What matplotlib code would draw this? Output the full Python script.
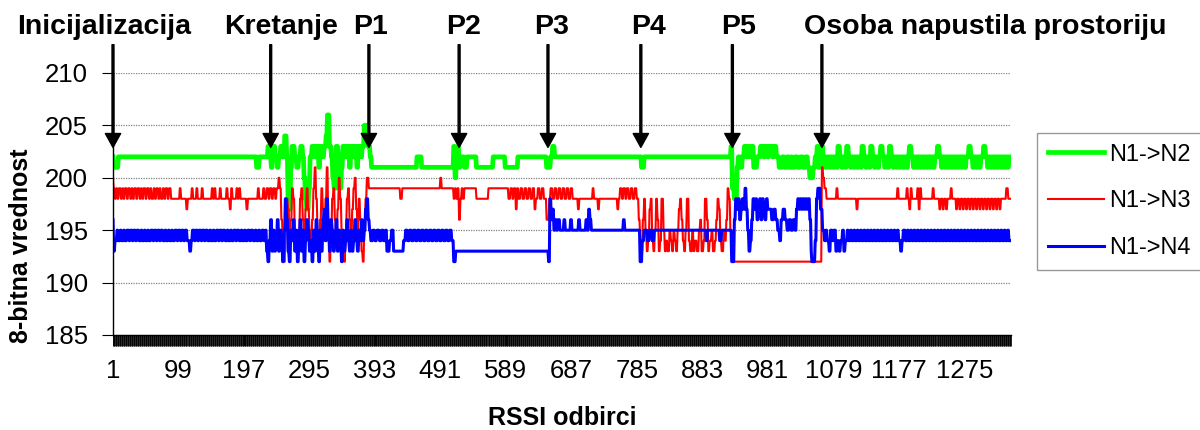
import numpy as np
import matplotlib
matplotlib.use("Agg")
import matplotlib.pyplot as plt
from matplotlib.ticker import FixedLocator, MultipleLocator

plt.rcParams['font.family'] = ['Liberation Sans', 'DejaVu Sans']

# broj RSSI odbiraka
n_samples = 1345

# (pocetni odbirak, vrednost) - vrednost vazi do sledeceg para
n1_n2 = [(1, 202), (2, 201), (9, 202), (216, 201), (220, 202),
         (233, 203), (236, 202), (238, 201), (240, 203), (244, 202), (247, 201), (249, 202), (252, 203),
         (255, 202), (258, 204), (261, 202), (263, 198), (265, 197), (267, 201), (269, 203), (273, 202),
         (276, 201), (279, 202), (282, 203), (285, 202), (287, 200), (289, 198), (291, 197), (294, 199),
         (296, 202), (299, 203), (303, 202), (305, 203), (309, 201), (311, 203), (314, 202), (317, 203),
         (320, 204), (322, 206), (325, 203), (328, 202), (330, 200), (332, 199), (335, 203), (338, 202),
         (340, 199), (343, 201), (345, 203), (349, 202), (351, 203), (355, 201), (357, 203), (361, 202),
         (363, 203), (366, 201), (368, 203), (371, 202), (374, 203), (377, 205), (381, 204), (383, 203),
         (386, 202), (388, 201), (456, 202), (463, 201), (511, 203), (513, 200), (515, 202), (517, 203),
         (519, 201), (521, 202), (527, 201), (531, 202), (545, 201), (570, 202), (588, 201), (607, 202),
         (650, 201), (656, 202), (659, 203), (662, 202), (792, 201), (796, 202),
         (926, 203), (928, 199), (931, 198), (935, 201), (937, 202), (940, 201), (943, 202), (946, 203),
         (949, 202), (951, 203), (954, 202), (957, 203), (960, 201), (965, 202), (970, 203), (975, 202),
         (977, 203), (981, 202), (983, 203), (988, 202), (990, 203), (994, 202), (998, 201), (1003, 202),
         (1006, 201), (1010, 202), (1013, 201), (1016, 202), (1018, 201), (1022, 202), (1026, 201),
         (1030, 202), (1034, 201), (1038, 202), (1041, 201), (1044, 200), (1049, 201), (1052, 202),
         (1055, 203), (1057, 201), (1060, 202), (1062, 203), (1064, 201),
         (1066, 202), (1069, 201), (1071, 202), (1074, 201), (1076, 202), (1079, 201), (1081, 202),
         (1084, 201), (1086, 203), (1089, 202), (1092, 201), (1094, 202), (1097, 201), (1099, 203),
         (1102, 202), (1105, 201), (1107, 202), (1110, 201), (1112, 202), (1115, 201), (1117, 202),
         (1120, 201), (1122, 203), (1125, 202), (1128, 201), (1130, 202), (1133, 201), (1135, 203),
         (1138, 202), (1141, 201), (1143, 202), (1146, 201), (1148, 202), (1150, 203), (1153, 202),
         (1156, 201), (1158, 202), (1161, 201), (1163, 203), (1166, 202), (1169, 201), (1171, 202),
         (1174, 201), (1176, 202), (1179, 201), (1181, 202), (1184, 201), (1186, 202), (1189, 201),
         (1191, 202), (1193, 203), (1196, 202), (1199, 201), (1201, 202), (1204, 201), (1206, 202),
         (1209, 201), (1211, 202), (1214, 201), (1216, 202), (1219, 201), (1221, 202), (1224, 201),
         (1226, 202), (1229, 201), (1231, 202), (1235, 203), (1238, 202), (1241, 201), (1243, 202),
         (1246, 201), (1248, 202), (1251, 201), (1253, 202), (1256, 201), (1258, 202), (1261, 201),
         (1263, 202), (1266, 201), (1268, 202), (1271, 201), (1273, 202), (1276, 201), (1278, 202),
         (1282, 203), (1285, 202), (1288, 201), (1290, 202), (1293, 201), (1295, 202), (1298, 201),
         (1300, 202), (1304, 203), (1307, 202), (1310, 201), (1312, 202), (1315, 201), (1317, 202),
         (1320, 201), (1322, 202), (1325, 201), (1327, 202), (1330, 201), (1332, 202), (1335, 201),
         (1337, 202), (1340, 201), (1342, 202)]

n1_n3 = [(1, 200), (2, 199), (4, 198), (6, 199), (8, 198), (10, 199), (13, 198), (15, 199), (17, 198),
         (19, 199), (22, 198), (24, 199), (27, 198), (29, 199), (31, 198), (33, 199), (36, 198), (38, 199),
         (41, 198), (43, 199), (45, 198), (47, 199), (50, 198), (52, 199), (55, 198), (57, 199), (59, 198),
         (62, 199), (64, 198), (66, 199), (69, 198), (71, 199), (73, 198), (76, 199), (78, 198), (80, 199),
         (83, 198), (85, 199), (88, 198), (101, 199), (103, 198), (111, 197), (113, 198), (119, 199),
         (121, 198), (126, 199), (128, 198), (134, 199), (136, 198), (149, 199), (151, 198), (153, 199),
         (155, 198), (161, 199), (163, 198), (171, 199), (173, 198), (176, 197), (178, 199), (180, 198),
         (186, 199), (188, 198), (190, 199), (192, 198), (201, 197), (203, 198), (218, 199), (220, 198),
         (226, 199), (228, 198), (231, 199), (234, 198), (236, 199), (239, 198), (241, 199), (244, 198),
         (246, 199), (249, 200), (251, 199),
         (253, 196), (255, 194), (257, 192), (259, 195), (261, 198), (263, 197), (265, 194), (267, 196),
         (269, 199), (271, 198), (273, 195), (275, 193), (277, 192), (279, 195), (281, 198), (283, 199),
         (285, 196), (287, 194), (289, 197), (291, 199), (293, 197), (295, 195), (297, 193), (299, 196),
         (301, 199), (303, 201), (305, 198), (307, 195), (309, 193), (311, 196), (313, 199), (315, 197),
         (317, 194), (319, 198), (321, 201), (323, 196), (325, 192), (327, 195), (329, 198), (331, 199),
         (333, 196), (335, 194), (337, 197), (339, 200), (341, 198), (343, 195), (345, 193), (347, 192),
         (349, 195), (351, 198), (353, 199), (355, 196), (357, 194), (359, 197), (361, 199), (363, 200),
         (365, 197), (367, 195), (369, 198), (371, 196), (373, 193), (375, 192), (377, 195), (379, 198),
         (381, 200), (384, 199), (431, 198), (434, 199), (491, 200), (493, 199),
         (511, 198), (513, 199), (515, 198), (517, 199), (519, 196), (521, 198), (523, 199), (525, 198),
         (527, 199), (545, 198), (563, 199), (593, 198), (596, 199), (599, 198), (601, 199), (604, 197),
         (606, 199), (608, 198), (611, 199), (614, 198), (617, 199), (620, 198), (623, 199), (626, 198),
         (629, 199), (632, 197), (634, 198), (637, 199), (640, 198), (643, 199), (646, 198), (650, 196),
         (654, 198), (656, 199), (659, 198), (662, 199), (665, 198), (668, 199), (671, 198), (674, 199),
         (677, 198), (680, 199), (683, 198), (686, 199), (689, 198), (697, 197), (699, 198), (719, 199),
         (721, 198), (727, 197), (729, 198), (756, 197), (758, 198), (760, 199), (763, 198), (765, 199),
         (768, 198), (770, 199), (773, 198), (776, 199), (779, 198), (782, 199), (785, 198),
         (788, 196), (790, 194), (792, 193), (794, 196), (796, 198), (798, 195), (800, 193), (802, 194),
         (804, 197), (806, 198), (808, 194), (810, 193), (812, 195), (814, 198), (816, 196), (818, 193),
         (820, 194), (822, 198), (825, 195), (827, 193), (829, 194), (831, 193), (834, 195), (836, 194),
         (838, 193), (840, 195), (842, 194), (844, 193), (846, 195), (848, 197), (850, 198), (852, 196),
         (854, 194), (856, 193), (858, 195), (860, 198), (863, 194), (865, 193), (868, 195), (870, 193),
         (872, 194), (875, 193), (878, 195), (880, 196), (882, 193), (885, 194), (887, 198), (890, 196),
         (892, 193), (894, 194), (897, 195), (899, 193), (902, 194), (904, 196), (906, 198), (908, 197),
         (910, 194), (912, 193), (915, 195), (917, 194), (919, 196), (921, 199), (923, 198), (925, 195),
         (927, 193), (929, 192), (1062, 201), (1064, 200), (1066, 199), (1069, 198), (1084, 199),
         (1086, 198), (1114, 197), (1116, 198), (1175, 199), (1177, 198), (1189, 199), (1191, 198),
         (1193, 197), (1195, 199), (1197, 198), (1205, 199), (1207, 197), (1209, 199), (1211, 198),
         (1228, 199), (1230, 198), (1238, 197), (1240, 198), (1243, 197), (1245, 198), (1248, 197),
         (1250, 198), (1255, 199), (1257, 198), (1263, 197), (1265, 198), (1268, 197), (1270, 198),
         (1273, 197), (1275, 198), (1278, 197), (1280, 198), (1283, 197), (1285, 198), (1288, 197),
         (1290, 198), (1293, 197), (1295, 198), (1298, 197), (1300, 198), (1303, 197), (1305, 198),
         (1308, 197), (1310, 198), (1313, 197), (1315, 198), (1318, 197), (1320, 198), (1323, 197),
         (1325, 198), (1328, 197), (1330, 198), (1338, 199), (1341, 198)]

n1_n4 = [(1, 196), (2, 193), (4, 194), (7, 195), (9, 194), (12, 195), (14, 194), (17, 195), (19, 194),
         (22, 195), (25, 194), (27, 195), (30, 194), (32, 195), (35, 194), (37, 195), (40, 194), (43, 195),
         (45, 194), (48, 195), (50, 194), (53, 195), (55, 194), (58, 195), (61, 194), (63, 195), (66, 194),
         (68, 195), (71, 194), (73, 195), (76, 194), (79, 195), (81, 194), (84, 195), (86, 194), (89, 195),
         (91, 194), (94, 195), (97, 194), (99, 195), (102, 194), (104, 195), (107, 194), (109, 195),
         (112, 194), (116, 193), (118, 194), (120, 195), (123, 194), (125, 195), (128, 194), (130, 195),
         (133, 194), (135, 195), (138, 194), (140, 195), (143, 194), (146, 195), (148, 194), (151, 195),
         (153, 194), (156, 195), (159, 194), (161, 195), (164, 194), (166, 195), (169, 194), (172, 195),
         (174, 194), (177, 195), (179, 194), (182, 195), (185, 194), (187, 195), (190, 194), (193, 195),
         (195, 194), (198, 195), (200, 194), (203, 195), (206, 194), (208, 195), (211, 194), (214, 195),
         (216, 194), (219, 195), (221, 194), (224, 195), (227, 194), (229, 195),
         (231, 193), (233, 192), (235, 194), (237, 196), (239, 193), (241, 195), (243, 193), (245, 194),
         (247, 196), (249, 193), (251, 195), (253, 194), (255, 192), (257, 195), (259, 198), (261, 196),
         (263, 193), (265, 192), (267, 195), (269, 194), (271, 196), (273, 193), (275, 195), (277, 192),
         (279, 194), (281, 196), (283, 193), (285, 195), (287, 192), (289, 194), (291, 196), (293, 195),
         (295, 193), (297, 194), (299, 192), (301, 195), (303, 193), (305, 196), (307, 194), (309, 192),
         (311, 195), (313, 193), (315, 196), (317, 197), (319, 194), (321, 198), (323, 195), (325, 193),
         (327, 196), (329, 195), (331, 193), (333, 194), (335, 196), (337, 193), (339, 195), (341, 194),
         (343, 192), (345, 195), (347, 193), (349, 194), (351, 196), (353, 194), (355, 193), (357, 195),
         (359, 193), (361, 194), (363, 196), (365, 194), (367, 193), (369, 195), (371, 194), (373, 196),
         (375, 194), (377, 195), (379, 197), (381, 198), (383, 196), (385, 195), (387, 194),
         (390, 195), (393, 194), (396, 195), (400, 194), (403, 195), (406, 194), (409, 195), (411, 193),
         (415, 194), (418, 195), (421, 193), (436, 194), (439, 195), (442, 194), (445, 195), (448, 194),
         (451, 195), (454, 194), (457, 195), (460, 194), (463, 195), (466, 194), (469, 195), (472, 194),
         (475, 195), (478, 194), (481, 195), (484, 194), (487, 195), (490, 194), (493, 195), (496, 194),
         (499, 195), (502, 194), (505, 195), (508, 194), (511, 192), (514, 193), (653, 192), (655, 198),
         (657, 196), (659, 197), (661, 195), (663, 196), (665, 195), (667, 196), (670, 195), (676, 196),
         (678, 195), (686, 196), (688, 195), (698, 196), (700, 195), (709, 196), (711, 195), (713, 197),
         (715, 196), (717, 195), (765, 196), (767, 195), (790, 192), (793, 194), (796, 195), (801, 194),
         (804, 195), (808, 194), (811, 195), (889, 194), (891, 195), (909, 194), (912, 195), (927, 192),
         (931, 196), (933, 198), (935, 197), (937, 198), (939, 196), (941, 197), (943, 198), (945, 197),
         (947, 199), (949, 197), (951, 195), (953, 193), (955, 194), (957, 196), (959, 198), (961, 197),
         (963, 198), (965, 196), (967, 197), (969, 198), (971, 196), (973, 198), (975, 197), (977, 196),
         (979, 198), (981, 197), (983, 197), (987, 196), (990, 197), (993, 196), (996, 195), (999, 194),
         (1001, 196), (1004, 197), (1007, 196), (1010, 195), (1013, 196), (1016, 195), (1019, 196),
         (1022, 195), (1024, 197), (1026, 198), (1028, 197), (1030, 198), (1032, 197), (1034, 198),
         (1036, 197), (1038, 198), (1040, 197), (1042, 198), (1044, 196), (1046, 193), (1047, 192),
         (1052, 194), (1054, 198), (1056, 199), (1060, 197), (1063, 195), (1066, 194),
         (1068, 195), (1070, 194), (1073, 193), (1075, 195), (1078, 194), (1080, 195), (1083, 193),
         (1085, 194), (1088, 193), (1090, 194), (1093, 195), (1095, 193), (1097, 194), (1100, 195),
         (1102, 194), (1105, 195), (1107, 194), (1110, 195), (1112, 194), (1115, 195), (1117, 194),
         (1120, 195), (1122, 194), (1125, 195), (1127, 194), (1130, 195), (1132, 194), (1135, 195),
         (1137, 194), (1140, 195), (1142, 194), (1145, 195), (1147, 194), (1150, 195), (1152, 194),
         (1155, 195), (1157, 194), (1160, 195), (1162, 194), (1165, 195), (1167, 194), (1170, 195),
         (1172, 194), (1175, 195), (1177, 194), (1180, 193), (1182, 194), (1184, 195), (1187, 194),
         (1190, 195), (1192, 194), (1195, 195), (1197, 194), (1200, 195), (1202, 194), (1205, 195),
         (1207, 194), (1210, 195), (1212, 194), (1215, 195), (1217, 194), (1220, 195), (1222, 194),
         (1225, 195), (1227, 194), (1230, 195), (1232, 194), (1235, 195), (1237, 194), (1240, 195),
         (1242, 194), (1245, 195), (1247, 194), (1250, 195), (1252, 194), (1255, 195), (1257, 194),
         (1260, 195), (1262, 194), (1265, 195), (1267, 194), (1270, 195), (1272, 194), (1275, 195),
         (1277, 194), (1280, 195), (1282, 194), (1285, 195), (1287, 194), (1290, 195), (1292, 194),
         (1295, 195), (1297, 194), (1300, 195), (1302, 194), (1305, 195), (1307, 194), (1310, 195),
         (1312, 194), (1315, 195), (1317, 194), (1320, 195), (1322, 194), (1325, 195), (1327, 194),
         (1330, 195), (1332, 194), (1335, 195), (1337, 194), (1340, 195), (1342, 194)]

# dogadjaji: tekst, odbirak na koji pokazuje strelica, polozaj teksta
event_labels = ['Inicijalizacija', 'Kretanje', 'P1', 'P2', 'P3', 'P4', 'P5', 'Osoba napustila prostoriju']
event_samples = [1, 237, 384, 519, 652, 791, 928, 1062]
label_samples = [-13, 252, 387, 526, 658, 802, 938, 1306]

x_ticks = [1, 99, 197, 295, 393, 491, 589, 687, 785, 883, 981, 1079, 1177, 1275]
y_ticks = [185, 190, 195, 200, 205, 210]


def expand(pairs, n):
    y = np.zeros(n)
    for start, val in sorted(pairs):
        y[start - 1:] = val
    return y


x = np.arange(1, n_samples + 1)

fig = plt.figure(figsize=(12, 4.3), dpi=100)
ax = fig.add_axes([113 / 1200, 1 - 335 / 430, 898 / 1200, 262 / 430])

ax.plot(x, expand(n1_n2, n_samples), color='#00ff00', lw=3.4, label='N1->N2')
ax.plot(x, expand(n1_n3, n_samples), color='#ff0000', lw=1.5, label='N1->N3')
ax.plot(x, expand(n1_n4, n_samples), color='#0000ff', lw=2.2, label='N1->N4')

ax.set_xlim(1, n_samples)
ax.set_ylim(185, 210)
ax.set_yticks(y_ticks)
ax.xaxis.set_major_locator(FixedLocator(x_ticks))
ax.xaxis.set_minor_locator(MultipleLocator(1))
ax.tick_params(axis='x', which='major', length=8, width=0.7, pad=9, labelsize=18.5)
ax.tick_params(axis='x', which='minor', length=8, width=0.6)
ax.tick_params(axis='y', length=8, width=0.8, pad=10, labelsize=18.5)

ax.grid(axis='y', color='#808080', linestyle=(0, (1, 1)), linewidth=0.9)
for name in ['top', 'right']:
    ax.spines[name].set_visible(False)
for name in ['left', 'bottom']:
    ax.spines[name].set_color('black')
    ax.spines[name].set_linewidth(1)

ax.set_xlabel('RSSI odbirci', fontsize=18, fontweight='bold', labelpad=17)
ax.set_ylabel('8-bitna vrednost', fontsize=18, fontweight='bold')
ax.yaxis.set_label_coords(-0.089, 0.34)

for lab, s, ls in zip(event_labels, event_samples, label_samples):
    ax.annotate('', xy=(s, 202.9), xytext=(s, 212.7),
                arrowprops=dict(facecolor='black', edgecolor='black', width=1.4,
                                headwidth=11, headlength=10, shrink=0),
                annotation_clip=False)
    ax.text(ls, 214.4, lab, ha='center', va='center', fontsize=20.5,
            fontweight='bold', clip_on=False)

leg = fig.legend(loc='upper left', bbox_to_anchor=(1037 / 1200, 1 - 133 / 430),
                 fontsize=17, frameon=True, fancybox=False, edgecolor='#808080',
                 handlelength=2.4, handletextpad=0.2, labelspacing=1.05,
                 borderpad=0.45, borderaxespad=0)
leg.get_frame().set_linewidth(1)

fig.savefig('out.png', dpi=100)
